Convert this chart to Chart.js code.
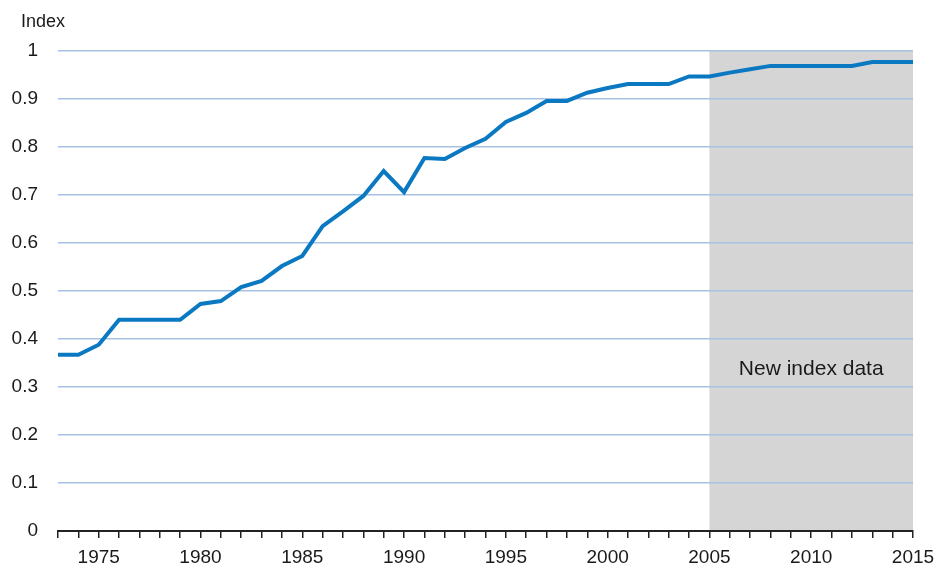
<!DOCTYPE html>
<html>
<head>
<meta charset="utf-8">
<script src="https://cdn.jsdelivr.net/npm/chart.js@4"></script>
<style>
  html, body { margin: 0; padding: 0; background: #fff; }
  #wrap { width: 938px; height: 568px; }
</style>
</head>
<body>
<div id="wrap"><canvas id="chart" width="938" height="568"></canvas></div>
<script>
// years on the x axis
const years = [1973, 1974, 1975, 1976, 1977, 1978, 1979, 1980, 1981, 1982,
  1983, 1984, 1985, 1986, 1987, 1988, 1989, 1990, 1991, 1992,
  1993, 1994, 1995, 1996, 1997, 1998, 1999, 2000, 2001, 2002,
  2003, 2004, 2005, 2006, 2007, 2008, 2009, 2010, 2011, 2012,
  2013, 2014, 2015];

// index values
const indexValues = [0.367, 0.367, 0.388, 0.440, 0.440, 0.440, 0.440, 0.473, 0.479, 0.508,
  0.521, 0.552, 0.573, 0.635, 0.666, 0.698, 0.750, 0.706, 0.777, 0.775,
  0.798, 0.817, 0.852, 0.871, 0.896, 0.896, 0.913, 0.923, 0.931, 0.931,
  0.931, 0.947, 0.947, 0.955, 0.962, 0.969, 0.969, 0.969, 0.969, 0.969,
  0.977, 0.977, 0.977];

const yTicks = [0, 0.1, 0.2, 0.3, 0.4, 0.5, 0.6, 0.7, 0.8, 0.9, 1];
const shadeFrom = 2005;
const shadeTo = 2015;
const shadeLabel = "New index data";
const axisTitle = "Index";

const FONT = "'Liberation Sans', Arial, sans-serif";
const TEXT = "#1a1a1a";

// grey box behind the grid for the new index period + a few labels
const extrasPlugin = {
  id: 'extras',
  beforeDraw(chart) {
    const { ctx, scales } = chart;
    const x0 = scales.x.getPixelForValue(years.indexOf(shadeFrom));
    const x1 = scales.x.getPixelForValue(years.indexOf(shadeTo));
    const y0 = scales.y.getPixelForValue(1);
    const y1 = scales.y.getPixelForValue(0);
    ctx.save();
    ctx.fillStyle = '#d5d5d5';
    ctx.fillRect(x0, y0, x1 - x0, y1 - y0);
    ctx.restore();
  },
  afterDraw(chart) {
    const { ctx, scales } = chart;
    ctx.save();
    ctx.fillStyle = TEXT;
    ctx.textBaseline = 'middle';
    ctx.textAlign = 'center';
    ctx.font = "18px " + FONT;
    ctx.fillText(axisTitle, 43, 22);
    ctx.font = "21px " + FONT;
    const cx = (scales.x.getPixelForValue(years.indexOf(shadeFrom)) +
                scales.x.getPixelForValue(years.indexOf(shadeTo))) / 2;
    ctx.fillText(shadeLabel, cx, scales.y.getPixelForValue(0.338));
    ctx.restore();
  }
};

new Chart(document.getElementById('chart').getContext('2d'), {
  type: 'line',
  data: {
    labels: years,
    datasets: [{
      data: indexValues,
      borderColor: '#0a79c2',
      borderWidth: 4,
      pointRadius: 0,
      fill: false,
      tension: 0
    }]
  },
  options: {
    responsive: false,
    animation: false,
    layout: { padding: { top: 51, right: 25, left: 0, bottom: 0 } },
    plugins: { legend: { display: false }, tooltip: { enabled: false } },
    scales: {
      x: {
        type: 'category',
        offset: false,
        afterFit(s) { s.height = 37; s.paddingLeft = 0; s.paddingRight = 0; },
        border: { display: true, color: '#222', width: 2 },
        grid: { drawOnChartArea: false, drawTicks: true, tickLength: 7, color: '#222', lineWidth: 1.5 },
        ticks: {
          autoSkip: false,
          maxRotation: 0,
          padding: 8,
          color: TEXT,
          font: { family: FONT, size: 19 },
          callback(v, i) { return years[i] % 5 === 0 ? String(years[i]) : ''; }
        }
      },
      y: {
        min: 0,
        max: 1,
        afterFit(s) { s.width = 58; },
        afterBuildTicks(s) { s.ticks = yTicks.map(v => ({ value: v })); },
        border: { display: false },
        grid: { drawTicks: false, color: '#a6c1e4', lineWidth: 1.5 },
        ticks: {
          padding: 20,
          color: TEXT,
          font: { family: FONT, size: 19 },
          callback(v) { return String(Math.round(v * 10) / 10); }
        }
      }
    }
  },
  plugins: [extrasPlugin]
});
</script>
</body>
</html>
